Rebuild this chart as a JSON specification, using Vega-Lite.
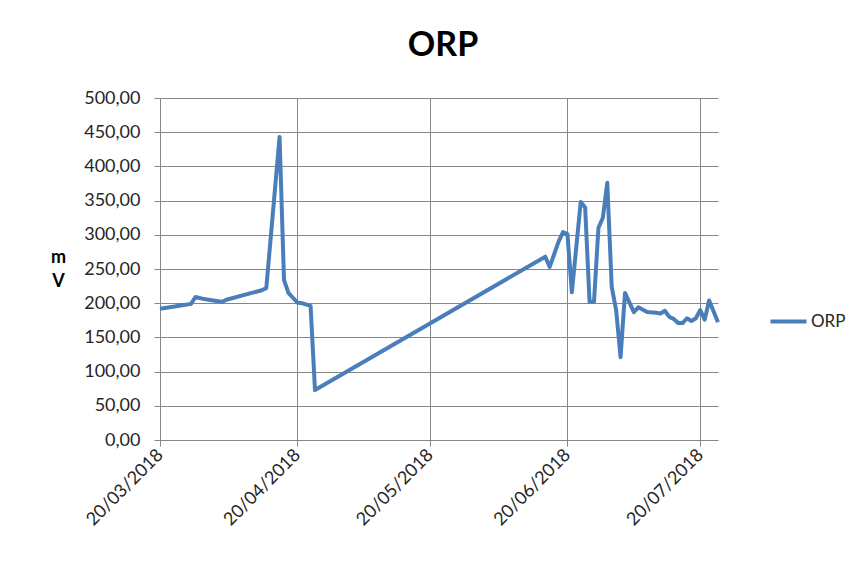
{
  "$schema": "https://vega.github.io/schema/vega-lite/v6.json",
  "autosize": {"type": "none"},
  "width": 558,
  "height": 342,
  "padding": {"left": 160, "top": 98, "right": 150, "bottom": 122},
  "background": "white",
  "title": {"text": "ORP", "font": "Lato", "fontSize": 34, "fontWeight": "bold", "color": "#000000", "anchor": "middle", "offset": 26, "dx": 4},
  "data": {"values": [
    {"date": "2018-03-20", "orp": 192, "series": "ORP"},
    {"date": "2018-03-24", "orp": 196, "series": "ORP"},
    {"date": "2018-03-27", "orp": 199, "series": "ORP"},
    {"date": "2018-03-28", "orp": 209, "series": "ORP"},
    {"date": "2018-03-30", "orp": 206, "series": "ORP"},
    {"date": "2018-04-01", "orp": 204, "series": "ORP"},
    {"date": "2018-04-03", "orp": 202, "series": "ORP"},
    {"date": "2018-04-04", "orp": 205, "series": "ORP"},
    {"date": "2018-04-12", "orp": 219, "series": "ORP"},
    {"date": "2018-04-13", "orp": 222, "series": "ORP"},
    {"date": "2018-04-16", "orp": 443, "series": "ORP"},
    {"date": "2018-04-17", "orp": 234, "series": "ORP"},
    {"date": "2018-04-18", "orp": 215, "series": "ORP"},
    {"date": "2018-04-20", "orp": 201, "series": "ORP"},
    {"date": "2018-04-21", "orp": 200, "series": "ORP"},
    {"date": "2018-04-23", "orp": 196, "series": "ORP"},
    {"date": "2018-04-24", "orp": 73, "series": "ORP"},
    {"date": "2018-06-15", "orp": 268, "series": "ORP"},
    {"date": "2018-06-16", "orp": 253, "series": "ORP"},
    {"date": "2018-06-18", "orp": 290, "series": "ORP"},
    {"date": "2018-06-19", "orp": 304, "series": "ORP"},
    {"date": "2018-06-20", "orp": 301, "series": "ORP"},
    {"date": "2018-06-21", "orp": 216, "series": "ORP"},
    {"date": "2018-06-23", "orp": 348, "series": "ORP"},
    {"date": "2018-06-24", "orp": 340, "series": "ORP"},
    {"date": "2018-06-25", "orp": 202, "series": "ORP"},
    {"date": "2018-06-26", "orp": 202, "series": "ORP"},
    {"date": "2018-06-27", "orp": 310, "series": "ORP"},
    {"date": "2018-06-28", "orp": 325, "series": "ORP"},
    {"date": "2018-06-29", "orp": 376, "series": "ORP"},
    {"date": "2018-06-30", "orp": 224, "series": "ORP"},
    {"date": "2018-07-01", "orp": 190, "series": "ORP"},
    {"date": "2018-07-02", "orp": 121, "series": "ORP"},
    {"date": "2018-07-03", "orp": 215, "series": "ORP"},
    {"date": "2018-07-05", "orp": 187, "series": "ORP"},
    {"date": "2018-07-06", "orp": 194, "series": "ORP"},
    {"date": "2018-07-08", "orp": 187, "series": "ORP"},
    {"date": "2018-07-10", "orp": 186, "series": "ORP"},
    {"date": "2018-07-11", "orp": 185, "series": "ORP"},
    {"date": "2018-07-12", "orp": 189, "series": "ORP"},
    {"date": "2018-07-13", "orp": 180, "series": "ORP"},
    {"date": "2018-07-14", "orp": 177, "series": "ORP"},
    {"date": "2018-07-15", "orp": 171, "series": "ORP"},
    {"date": "2018-07-16", "orp": 171, "series": "ORP"},
    {"date": "2018-07-17", "orp": 178, "series": "ORP"},
    {"date": "2018-07-18", "orp": 174, "series": "ORP"},
    {"date": "2018-07-19", "orp": 178, "series": "ORP"},
    {"date": "2018-07-20", "orp": 190, "series": "ORP"},
    {"date": "2018-07-21", "orp": 176, "series": "ORP"},
    {"date": "2018-07-22", "orp": 204, "series": "ORP"},
    {"date": "2018-07-24", "orp": 172, "series": "ORP"}
  ]},
  "mark": {"type": "line", "strokeWidth": 4, "strokeJoin": "round", "clip": false},
  "encoding": {
    "x": {
      "field": "date",
      "type": "temporal",
      "scale": {"type": "utc", "domain": [{"year": 2018, "month": 3, "date": 20, "utc": true}, {"year": 2018, "month": 7, "date": 24, "utc": true}]},
      "axis": {
        "title": null,
        "values": [
          {"year": 2018, "month": 3, "date": 20, "utc": true},
          {"year": 2018, "month": 4, "date": 20, "utc": true},
          {"year": 2018, "month": 5, "date": 20, "utc": true},
          {"year": 2018, "month": 6, "date": 20, "utc": true},
          {"year": 2018, "month": 7, "date": 20, "utc": true}
        ],
        "format": "%d/%m/%Y",
        "labelAngle": -45,
        "labelAlign": "right",
        "labelBaseline": "middle",
        "labelPadding": 6,
        "labelFont": "Lato",
        "labelFontSize": 18,
        "labelColor": "#262626",
        "grid": true,
        "gridColor": "#868686",
        "gridWidth": 1,
        "domain": false,
        "ticks": true,
        "tickColor": "#868686",
        "tickSize": 6,
        "labelOverlap": false,
        "labelBound": false
      }
    },
    "y": {
      "field": "orp",
      "type": "quantitative",
      "scale": {"domain": [0, 500], "nice": false},
      "axis": {
        "title": ["m", "V"],
        "titleAngle": 0,
        "titleFont": "Lato",
        "titleFontSize": 18,
        "titleFontWeight": "bold",
        "titleColor": "#000000",
        "titleAlign": "center",
        "titleBaseline": "top",
        "titleLineHeight": 24,
        "titleX": -102,
        "titleY": 150,
        "values": [0, 50, 100, 150, 200, 250, 300, 350, 400, 450, 500],
        "labelExpr": "replace(format(datum.value, '.2f'), '.', ',')",
        "labelFont": "Lato",
        "labelFontSize": 18,
        "labelColor": "#262626",
        "labelPadding": 14,
        "grid": true,
        "gridColor": "#868686",
        "gridWidth": 1,
        "domain": true,
        "domainColor": "#868686",
        "ticks": true,
        "tickColor": "#868686",
        "tickSize": 6
      }
    },
    "color": {
      "field": "series",
      "type": "nominal",
      "scale": {"range": ["#4a7ebb"]},
      "legend": {
        "title": null,
        "orient": "none",
        "legendX": 608,
        "legendY": 203,
        "symbolType": "stroke",
        "symbolSize": 1300,
        "symbolStrokeWidth": 4,
        "labelFont": "Lato",
        "labelFontSize": 17,
        "labelColor": "#262626",
        "labelOffset": 2
      }
    }
  },
  "config": {
    "view": {"stroke": null},
    "axis": {"labelFontWeight": "normal"}
  }
}
